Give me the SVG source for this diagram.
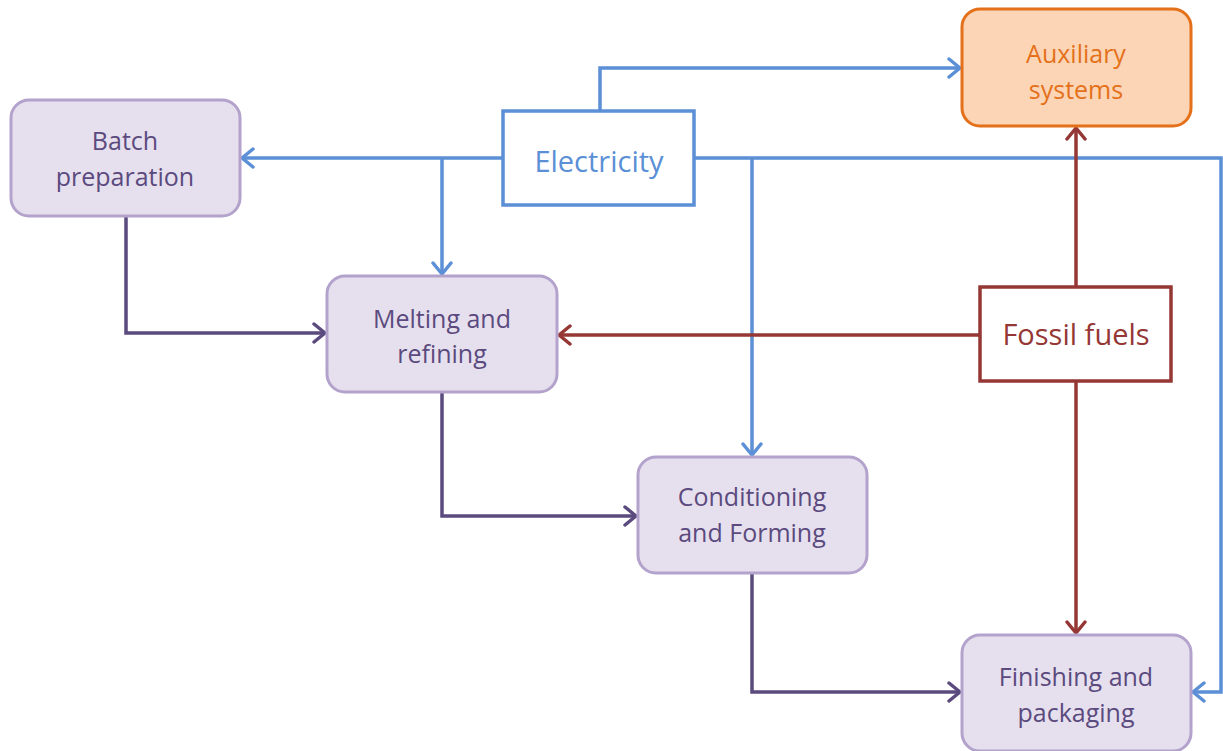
<svg xmlns="http://www.w3.org/2000/svg" width="1223" height="751" viewBox="0 0 1223 751">
<style>
.proc{fill:#e6e0ee;stroke:#b3a2cc;stroke-width:3}
.ptxt{fill:#5b4a7e}
text{font-family:"Open Sans","Noto Sans",sans-serif;font-size:25px;text-anchor:middle}
text.big{font-size:29px}
.blue{fill:none;stroke:#5b8fd6;stroke-width:3.5}
.purp{fill:none;stroke:#5b4a7e;stroke-width:3.5}
.red{fill:none;stroke:#953735;stroke-width:3.5}
</style>
<defs>
<marker id="ab" markerUnits="userSpaceOnUse" markerWidth="18" markerHeight="22" refX="14" refY="11" orient="auto" viewBox="0 0 18 22"><path d="M3,2 L14,11 L3,20" fill="none" stroke="#5b8fd6" stroke-width="3.5" stroke-linecap="round" stroke-linejoin="round"/></marker>
<marker id="ap" markerUnits="userSpaceOnUse" markerWidth="18" markerHeight="22" refX="14" refY="11" orient="auto" viewBox="0 0 18 22"><path d="M3,2 L14,11 L3,20" fill="none" stroke="#5b4a7e" stroke-width="3.5" stroke-linecap="round" stroke-linejoin="round"/></marker>
<marker id="ar" markerUnits="userSpaceOnUse" markerWidth="18" markerHeight="22" refX="14" refY="11" orient="auto" viewBox="0 0 18 22"><path d="M3,2 L14,11 L3,20" fill="none" stroke="#953735" stroke-width="3.5" stroke-linecap="round" stroke-linejoin="round"/></marker>
</defs>
<g id="connectors">
<path class="blue" d="M600,111 V68 H960" marker-end="url(#ab)"/>
<path class="blue" d="M503,158 H242" marker-end="url(#ab)"/>
<path class="blue" d="M442,158 V274" marker-end="url(#ab)"/>
<path class="blue" d="M694,158 H1221 V692 H1193" marker-end="url(#ab)"/>
<path class="blue" d="M752,158 V455" marker-end="url(#ab)"/>
<path class="purp" d="M126,216 V333 H325" marker-end="url(#ap)"/>
<path class="purp" d="M442,392 V516 H636" marker-end="url(#ap)"/>
<path class="purp" d="M752,573 V692 H960" marker-end="url(#ap)"/>
<path class="red" d="M980,335 H559" marker-end="url(#ar)"/>
<path class="red" d="M1076,287 V128" marker-end="url(#ar)"/>
<path class="red" d="M1076,381 V633" marker-end="url(#ar)"/>
</g>
<g id="batch">
<rect class="proc" x="11" y="100" width="229" height="116" rx="18"/>
<text class="ptxt" x="125" y="150">Batch</text>
<text class="ptxt" x="125" y="186">preparation</text>
</g>
<g id="electricity">
<rect x="503" y="111" width="191" height="94" fill="#fff" stroke="#5b8fd6" stroke-width="3.5"/>
<text class="big" x="599" y="172" fill="#5b8fd6">Electricity</text>
</g>
<g id="auxiliary">
<rect x="962" y="9" width="229" height="117" rx="18" fill="#fbd5b5" stroke="#e4711a" stroke-width="3"/>
<text x="1076" y="63" fill="#e4711a">Auxiliary</text>
<text x="1076" y="99" fill="#e4711a">systems</text>
</g>
<g id="melting">
<rect class="proc" x="327" y="276" width="230" height="116" rx="18"/>
<text class="ptxt" x="442" y="328">Melting and</text>
<text class="ptxt" x="442" y="363">refining</text>
</g>
<g id="fossil">
<rect x="980" y="287" width="191" height="94" fill="#fff" stroke="#953735" stroke-width="3.5"/>
<text class="big" x="1076" y="345" fill="#953735">Fossil fuels</text>
</g>
<g id="conditioning">
<rect class="proc" x="638" y="457" width="229" height="116" rx="18"/>
<text class="ptxt" x="752" y="506">Conditioning</text>
<text class="ptxt" x="752" y="542">and Forming</text>
</g>
<g id="finishing">
<rect class="proc" x="962" y="635" width="229" height="116" rx="18"/>
<text class="ptxt" x="1076" y="686">Finishing and</text>
<text class="ptxt" x="1076" y="722">packaging</text>
</g>
</svg>
